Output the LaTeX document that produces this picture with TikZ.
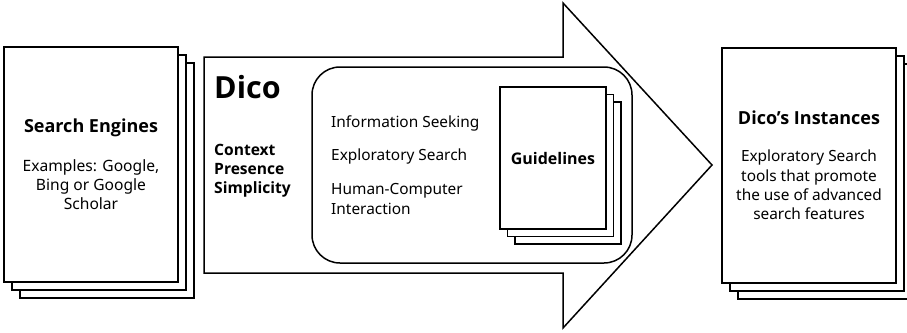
\documentclass[tikz,border=0pt]{standalone}
\usepackage{fontspec}
\setmainfont{Noto Sans}[AutoFakeBold=2.5]
\newfontfamily\headfont{Open Sans}
\usetikzlibrary{positioning}

\tikzset{
		outline/.style = {draw, line width=1.5pt, line join=miter},
		page/.style    = {outline, rectangle, fill=white, inner sep=0pt},
		bigpage/.style = {page, minimum width=174pt, minimum height=235pt},
		smallpage/.style = {page, minimum width=106pt, minimum height=142pt},
		title/.style   = {font=\headfont\bfseries\fontsize{18}{22}\selectfont, inner sep=0pt},
		body/.style    = {font=\fontsize{15.6}{19}\selectfont, align=center, inner sep=0pt},
		item/.style    = {font=\fontsize{15.4}{20}\selectfont, align=left, inner sep=0pt, anchor=west}
	}

\begin{document}
\begin{tikzpicture}[x=1pt, y=-1pt]
		\useasboundingbox (0,0) rectangle (907,332);
		
		% big arrow in the middle
		\draw[outline] (204,57) -- (563,57) -- (563,3) -- (712,165) -- (563,328) -- (563,273) -- (204,273) -- cycle;
		
		% left stack of pages
		\foreach \k in {2,1,0}
		\node[bigpage] (se\k) at (91+8*\k,164.5+8*\k) {};
		\node[title] (setitle) at (91,128) {Search Engines};
		\node[body] (setext) at (91,185) {Examples: Google,\\Bing or Google\\Scholar};
		
		% right stack of pages
		\foreach \k in {2,1,0}
		\node[bigpage] (di\k) at (809+8*\k,165.5+8*\k) {};
		\node[title] (dititle) at (809,118) {Dico’s Instances};
		\node[body, font=\fontsize{15.4}{19.4}\selectfont] (ditext) at (809,185) {Exploratory Search\\tools that promote\\the use of advanced\\search features};
		
		% inside the arrow
		\node[inner sep=0pt, anchor=west, font=\headfont\bfseries\fontsize{30.5}{36}\selectfont] (dico) at (214,87) {Dico};
		\node[inner sep=0pt, anchor=north west, align=left, font=\headfont\bfseries\fontsize{15.6}{19}\selectfont] (values) at (214,144) {Context\\Presence\\Simplicity};
		
		\node[outline, rounded corners=28pt, minimum width=320pt, minimum height=196pt, inner sep=0pt] (core) at (472,165) {};
		\node[item] (seeking) at (331,123) {Information Seeking};
		\node[item] (explore) at (331,156) {Exploratory Search};
		\node[item] (hci) at (331,199) {Human-Computer\\Interaction};
		
		% guidelines stack
		\foreach \k in {2,1,0}
		\node[smallpage] (gl\k) at (553+7.5*\k,158+7.5*\k) {};
		\node[title, font=\headfont\bfseries\fontsize{16}{20}\selectfont] (gltitle) at (553,158) {Guidelines};
		
	\end{tikzpicture}
\end{document}
